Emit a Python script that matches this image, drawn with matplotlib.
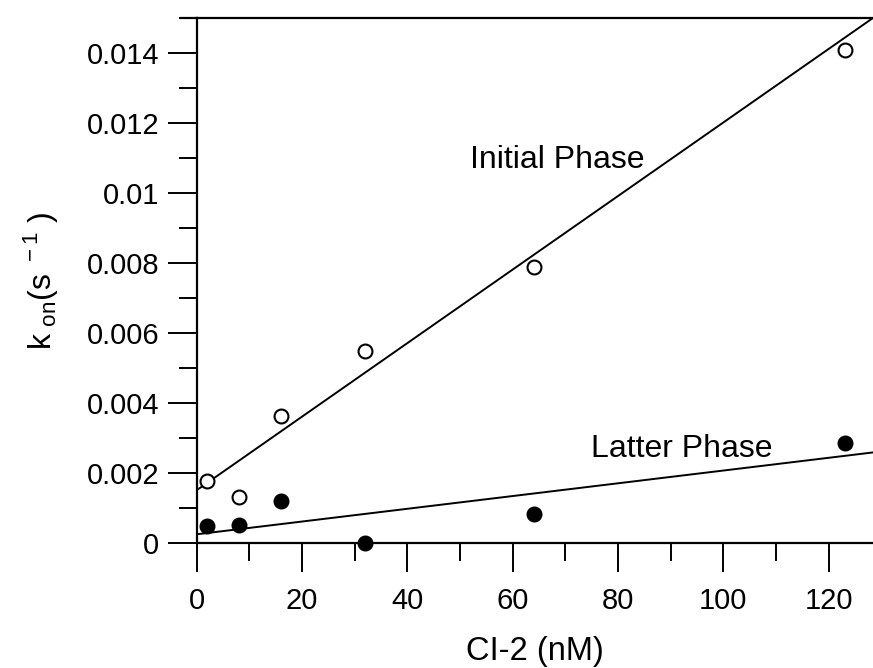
import numpy as np
import matplotlib.pyplot as plt
from matplotlib.ticker import MultipleLocator

# CI-2 concentration (nM) and observed on-rates (1/s)
cl2_nm = [2, 8, 16, 32, 64, 123]
kon_initial = [0.00176, 0.00131, 0.00362, 0.00549, 0.00787, 0.01408]
kon_latter = [0.00048, 0.00050, 0.00120, 0.0, 0.00081, 0.00286]

# fitted lines as drawn in the figure (end points)
fit_x = [0, 128.4]
fit_initial = [0.0015, 0.0150]
fit_latter = [0.00024, 0.00258]

xticks = [0, 20, 40, 60, 80, 100, 120]
yticks = [0, 0.002, 0.004, 0.006, 0.008, 0.01, 0.012, 0.014]
yticklabels = ["0", "0.002", "0.004", "0.006", "0.008", "0.01", "0.012", "0.014"]

plt.rcParams["font.family"] = ["Liberation Sans", "DejaVu Sans"]
plt.rcParams["mathtext.fontset"] = "custom"
plt.rcParams["mathtext.rm"] = "Liberation Sans"

fig = plt.figure(figsize=(8.73, 6.68), dpi=100)
ax = fig.add_axes([0.2253, 0.1876, 0.7747, 0.7855])

ax.plot(fit_x, fit_initial, color="black", lw=1.4)
ax.plot(fit_x, fit_latter, color="black", lw=1.4)
ax.plot(cl2_nm, kon_initial, "o", ms=10, mfc="white", mec="black", mew=1.5, clip_on=False)
ax.plot(cl2_nm, kon_latter, "o", ms=10.5, mfc="black", mec="black", clip_on=False, zorder=3)

ax.text(68.4, 0.01093, "Initial Phase", fontsize=23, ha="center", va="center")
ax.text(92.0, 0.00267, "Latter Phase", fontsize=23, ha="center", va="center")

# top frame line starts a little left of the y axis
ax.plot([-2.9, 0], [0.015, 0.015], color="black", lw=1.6, clip_on=False)

ax.set_xlim(0, 128.4)
ax.set_ylim(0, 0.015)
ax.set_xticks(xticks)
ax.set_yticks(yticks)
ax.set_yticklabels(yticklabels)
ax.xaxis.set_minor_locator(MultipleLocator(10))
ax.yaxis.set_minor_locator(MultipleLocator(0.001))
ax.tick_params(which="major", length=21, width=1.4, labelsize=21)
ax.tick_params(which="minor", length=13, width=1.4)
ax.tick_params(axis="x", which="major", pad=11)
ax.tick_params(axis="y", which="major", pad=6)

for side in ["left", "bottom", "top"]:
    ax.spines[side].set_linewidth(1.6)
ax.spines["right"].set_visible(False)

ax.set_xlabel("CI-2 (nM)", fontsize=23.5, labelpad=15)
ax.set_ylabel(r"k$_{\rm\ on}$(s$^{\rm\ -1}$ )", fontsize=23, labelpad=19)

fig.savefig("out.png", dpi=100)
